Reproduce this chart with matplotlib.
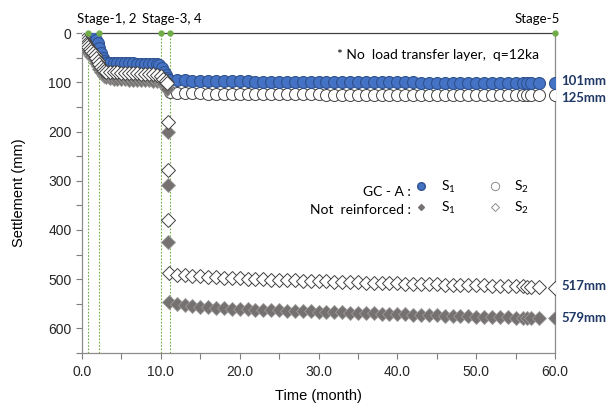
import matplotlib
matplotlib.use("Agg")
import matplotlib.pyplot as plt
from matplotlib.lines import Line2D
from matplotlib.ticker import MultipleLocator, FormatStrFormatter

# --- data (settlement in mm, time in months) ---
t_late = [12, 13, 14, 15, 16, 17, 18, 19, 20, 21, 22, 23, 24, 25, 26, 27, 28, 29,
          30, 31, 32, 33, 34, 35, 36, 37, 38, 39, 40, 41, 42, 43, 44, 45, 46, 47,
          48, 49, 50, 51, 52, 53, 54, 55, 56, 56.5, 57, 58, 60]

# not reinforced
t_nr_early = [0, 0.1, 0.2, 0.35, 0.5, 0.65, 0.8, 1.0, 1.2, 1.4, 1.6, 1.8, 2.0, 2.2,
              2.4, 2.6, 2.8, 3.0, 3.5, 4.0, 4.5, 5.0, 5.5, 6.0, 6.5, 7.0, 7.5, 8.0,
              8.5, 9.0, 9.5, 10.0, 10.3, 10.6, 10.8, 10.85, 10.9, 10.95, 11.0]
nr_s1 = [5, 18, 25, 30, 33, 36, 38, 42, 46, 50, 55, 60, 66, 72, 78, 84, 88, 90,
         92, 93, 93, 94, 94, 95, 95, 95, 96, 96, 96, 97, 98, 100, 104, 108, 114,
         200, 308, 425, 546,
         550, 553, 555, 556, 557, 558, 559, 560, 560, 561, 562, 562, 563, 563, 564,
         564, 565, 565, 566, 566, 567, 567, 568, 568, 569, 569, 570, 570, 571, 571,
         572, 572, 573, 573, 574, 574, 575, 575, 576, 576, 577, 577, 577, 578, 578,
         578, 578, 579, 579]
nr_s2 = [0, 8, 14, 18, 22, 25, 28, 32, 36, 40, 45, 50, 56, 62, 68, 73, 76, 78,
         79, 80, 80, 81, 81, 82, 82, 82, 83, 83, 84, 84, 86, 88, 93, 97, 101,
         180, 278, 380, 488,
         491, 492, 493, 494, 495, 496, 497, 497, 498, 499, 499, 500, 501, 501, 502,
         502, 503, 503, 504, 504, 505, 505, 506, 506, 507, 507, 507, 508, 508, 509,
         509, 509, 510, 510, 511, 511, 511, 512, 512, 512, 513, 513, 514, 514, 514,
         515, 515, 516, 517]

# GC - A
t_gc1_early = [0, 0.3, 0.6, 0.9, 1.2, 1.5, 1.8, 2.0, 2.2, 2.4, 2.6, 2.8, 3.0, 3.5,
               4.0, 4.5, 5.0, 5.5, 6.0, 6.5, 7.0, 7.5, 8.0, 8.5, 9.0, 9.5, 9.8,
               10.1, 10.4, 10.6, 10.8, 11.0]
gc_s1 = [0, 2, 4, 6, 8, 10, 13, 20, 30, 40, 50, 57, 60, 60, 60, 61, 61, 61, 61,
         61, 62, 62, 62, 62, 62, 63, 64, 70, 78, 85, 91, 95,
         96, 96, 97, 97, 97, 98, 98, 98, 98, 98, 99, 99, 99, 99, 99, 99, 99, 99,
         100, 100, 100, 100, 100, 100, 100, 100, 100, 100, 100, 100, 100, 101, 101,
         101, 101, 101, 101, 101, 101, 101, 101, 101, 101, 101, 101, 101, 101, 101,
         101]
t_gc2_early = [11.2]
gc_s2 = [119,
         121, 122, 122, 122, 123, 123, 123, 123, 123, 124, 124, 124, 124, 124, 124,
         124, 124, 124, 124, 125, 125, 125, 125, 125, 125, 125, 125, 125, 125, 125,
         125, 125, 125, 125, 125, 125, 125, 125, 125, 125, 125, 125, 125, 125, 125,
         125, 125, 125, 125]

stage_times = [0.76, 2.1, 10.0, 11.1, 60.0]
final_labels = [(101, 98), (125, 132), (517, 514), (579, 579)]

t_nr = t_nr_early + t_late
t_gc1 = t_gc1_early + t_late
t_gc2 = t_gc2_early + t_late

plt.rcParams["font.family"] = ["Liberation Sans", "DejaVu Sans"]
plt.rcParams["mathtext.default"] = "regular"
CAL = ["Lato", "DejaVu Sans"]

fig = plt.figure(figsize=(6.13, 4.09), dpi=100)
ax = fig.add_axes([0.1338, 0.137, 0.7716, 0.782])

green = "#70AD47"
for t in stage_times:
    ax.axvline(t, color=green, lw=0.8, ls=(0, (1.5, 1.5)), zorder=1)
ax.plot(stage_times, [0] * len(stage_times), "o", color=green, ms=3.5,
        clip_on=False, zorder=6)

ax.plot(t_gc2, gc_s2, "o", ms=8.6, mfc="white", mec="#404040", mew=0.7,
        ls="none", zorder=3)
ax.plot(t_gc1, gc_s1, "o", ms=8.6, mfc="#4472C4", mec="#2F528F", mew=0.8,
        ls="none", zorder=3)
ax.plot(t_nr, nr_s1, "D", ms=7.4, mfc="#767171", mec="#9A9A9A", mew=0.6,
        ls="none", zorder=4)
ax.plot(t_nr, nr_s2, "D", ms=7.4, mfc="white", mec="#404040", mew=0.7,
        ls="none", zorder=4)

ax.set_xlim(0, 60)
ax.set_ylim(650, 0)
ax.xaxis.set_major_locator(MultipleLocator(10))
ax.xaxis.set_minor_locator(MultipleLocator(5))
ax.xaxis.set_major_formatter(FormatStrFormatter("%.1f"))
ax.yaxis.set_major_locator(MultipleLocator(100))
ax.yaxis.set_minor_locator(MultipleLocator(50))
ax.tick_params(which="both", direction="out", length=4, width=0.8,
               color="#7F7F7F", labelsize=10, labelcolor="#262626")
ax.tick_params(axis="x", pad=5)
for side in ("left", "bottom", "right"):
    ax.spines[side].set_color("#8C8C8C")
    ax.spines[side].set_linewidth(0.9)
ax.spines["top"].set_color("#404040")
ax.spines["top"].set_linewidth(0.9)

ax.set_xlabel("Time (month)", fontsize=10.5, labelpad=7)
ax.set_ylabel("Settlement (mm)", fontsize=10.5, labelpad=16)

# stage labels
ax.text(3.2, -28, "Stage-1, 2", family=CAL, fontsize=9.5, ha="center",
        va="center", clip_on=False)
ax.text(11.4, -28, "Stage-3, 4", family=CAL, fontsize=9.5, ha="center",
        va="center", clip_on=False)
ax.text(60.6, -28, "Stage-5", family=CAL, fontsize=9.5, ha="right",
        va="center", clip_on=False)

ax.text(58, 45, "* No  load transfer layer,  q=12ka", family=CAL, fontsize=10,
        ha="right", va="center")

for val, ypos in final_labels:
    ax.text(60.8, ypos, f"{val}mm", family=CAL, fontsize=9.5, fontweight="bold",
            color="#1F3864", ha="left", va="center", clip_on=False)

# legend
h_gc1 = Line2D([], [], marker="o", ls="none", ms=5.5, mfc="#4472C4", mec="#2F528F")
h_nr1 = Line2D([], [], marker="D", ls="none", ms=3, mfc="#767171", mec="#767171")
h_gc2 = Line2D([], [], marker="o", ls="none", ms=6, mfc="white", mec="#8C8C8C", mew=0.7)
h_nr2 = Line2D([], [], marker="D", ls="none", ms=4, mfc="white", mec="#8C8C8C", mew=0.7)
ax.legend([h_gc1, h_nr1, h_gc2, h_nr2], ["S$_1$", "S$_1$", "S$_2$", "S$_2$"],
          ncol=2, frameon=False, loc="center left",
          bbox_to_anchor=(0.676, 0.487), handlelength=1.0, handletextpad=0.9,
          columnspacing=2.35, labelspacing=0.35, prop={"family": CAL, "size": 10})
ax.text(0.695, 0.503, "GC - A :", transform=ax.transAxes, family=CAL,
        fontsize=10, ha="right", va="center")
ax.text(0.695, 0.447, "Not  reinforced :", transform=ax.transAxes, family=CAL,
        fontsize=10, ha="right", va="center")

fig.savefig("out.png", dpi=100)
